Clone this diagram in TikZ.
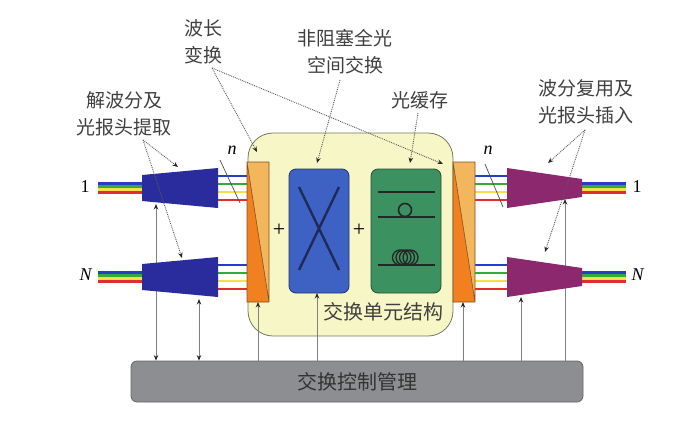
\documentclass[tikz,border=0pt]{standalone}
\usepackage{fontspec}
\setmainfont{Liberation Serif}
\newfontfamily\cjk{Noto Sans CJK SC}
\usetikzlibrary{positioning,arrows.meta}
\definecolor{unitfill}{RGB}{246,246,198}
\definecolor{unitline}{RGB}{120,120,95}
\definecolor{orlight}{RGB}{242,182,92}
\definecolor{ordark}{RGB}{240,128,32}
\definecolor{orline}{RGB}{130,80,35}
\definecolor{swblue}{RGB}{62,98,196}
\definecolor{swline}{RGB}{38,52,110}
\definecolor{bufgreen}{RGB}{60,145,96}
\definecolor{bufline}{RGB}{38,78,52}
\definecolor{demuxblue}{RGB}{42,44,158}
\definecolor{muxpurple}{RGB}{140,40,110}
\definecolor{ctrlgray}{RGB}{140,142,146}
\definecolor{fblue}{RGB}{40,60,200}
\definecolor{fgreen}{RGB}{50,170,60}
\definecolor{fyellow}{RGB}{240,225,70}
\definecolor{fred}{RGB}{225,45,45}
\tikzset{
  cnlabel/.style={font=\cjk\fontsize{19}{27}\selectfont, align=center, text=black!75, inner sep=0pt},
  pointer/.style={->, densely dotted, line width=0.9pt, draw=black!65},
  ctrlline/.style={line width=0.9pt, draw=black!50},
  latlabel/.style={font=\fontsize{18}{20}\selectfont, inner sep=0pt},
}

\begin{document}
\begin{tikzpicture}[x=1pt,y=-1pt,>={Stealth[length=5.5pt,width=4.5pt,color=black!85]}]
\useasboundingbox (0,0) rectangle (700,423);
% switching unit
\node[draw=unitline, fill=unitfill, line width=0.8pt, rounded corners=25pt, minimum width=205pt, minimum height=203pt, inner sep=0pt] (unit) at (350.5,234.5) {};
% fibres
\foreach \yy in {188,277} {
  \foreach \c/\o in {fblue/-4.5,fgreen/-1.5,fyellow/1.5,fred/4.5} {
    \draw[\c, line width=3pt] (98,{\yy+\o}) -- (142,{\yy+\o});
    \draw[\c, line width=3pt] (582,{\yy+\o}) -- (626,{\yy+\o});
  }
  \foreach \c/\o in {fblue/-12,fgreen/-4,fyellow/4,fred/12} {
    \draw[\c, line width=2.2pt] (218,{\yy+\o}) -- (247,{\yy+\o});
    \draw[\c, line width=2.2pt] (475,{\yy+\o}) -- (507,{\yy+\o});
  }
}
% control box
\node[draw=black!60, fill=ctrlgray, rounded corners=6pt, minimum width=452pt, minimum height=41pt, line width=0.8pt, font=\cjk\fontsize{20}{24}\selectfont, text=black!80] (ctrl) at (357,381.5) {交换控制管理};
% control lines
\coordinate (d1b) at (156,204);
\coordinate (dNb) at (199,299);
\coordinate (wcLb) at (258,302);
\coordinate (swb) at (317,293);
\coordinate (wcRb) at (463,302);
\coordinate (mNb) at (521,297);
\coordinate (m1b) at (565,199);
\draw[ctrlline,<->] (d1b) -- (d1b |- ctrl.north);
\draw[ctrlline,<->] (dNb) -- (dNb |- ctrl.north);
\foreach \p in {wcLb,swb,wcRb,mNb,m1b}
  \draw[ctrlline,->] (\p |- ctrl.north) -- (\p);
% demux and mux
\foreach \yy in {188,277} {
  \fill[demuxblue] (142,{\yy-13}) -- (218,{\yy-20}) -- (218,{\yy+20}) -- (142,{\yy+13}) -- cycle;
  \fill[muxpurple] (507,{\yy-20}) -- (582,{\yy-9}) -- (582,{\yy+9}) -- (507,{\yy+20}) -- cycle;
}
% wavelength converters
\foreach \bx in {247,453} {
  \fill[orlight] (\bx,162) -- ({\bx+22},162) -- ({\bx+22},302) -- cycle;
  \fill[ordark] (\bx,162) -- ({\bx+22},302) -- (\bx,302) -- cycle;
  \draw[orline, line width=0.6pt] (\bx,162) rectangle ({\bx+22},302) (\bx,162) -- ({\bx+22},302);
}
% space switch
\node[draw=swline, fill=swblue, rounded corners=7pt, minimum width=60pt, minimum height=124pt, line width=0.8pt] (switch) at (319,231) {};
\draw[swline!80!black, line width=2.4pt] (299,187) -- (339,270) (339,187) -- (299,270);
% buffer
\node[draw=bufline, fill=bufgreen, rounded corners=7pt, minimum width=70pt, minimum height=124pt, line width=0.8pt] (buffer) at (406,231) {};
\draw[black!85, line width=2pt] (378,192) -- (435,192) (378,217) -- (435,217) (378,265) -- (435,265);
\draw[black!85, line width=1.6pt] (405,210) circle (6.5);
\foreach \cx in {400,403.5,407,410.5}
  \draw[black!85, line width=1.3pt] (\cx,257.5) circle (7.5);
\node[latlabel, font=\fontsize{22}{24}\selectfont] (plusA) at (279,230) {+};
\node[latlabel, font=\fontsize{22}{24}\selectfont] (plusB) at (359,230) {+};
% port labels
\node[latlabel] (in1) at (85,187) {1};
\node[latlabel] (inN) at (86,275) {\textit{N}};
\node[latlabel] (out1) at (637,187) {1};
\node[latlabel] (outN) at (638,275) {\textit{N}};
\node[latlabel] (nL) at (232,150) {\textit{n}};
\node[latlabel] (nR) at (488,150) {\textit{n}};
\draw[black!70, line width=0.7pt] (220,160) -- (240,203);
\draw[black!70, line width=0.7pt] (485,164) -- (503,207);
% texts
\node[cnlabel, font=\cjk\fontsize{20}{24}\selectfont] (unittext) at (383,312) {交换单元结构};
\node[cnlabel] (wl) at (203,41.5) {波长\\变换};
\node[cnlabel] (nb) at (345,51.5) {非阻塞全光\\空间交换};
\node[cnlabel] (buf) at (420,100) {光缓存};
\node[cnlabel] (dm) at (124,113.5) {解波分及\\光报头提取};
\node[cnlabel] (mx) at (586,101.5) {波分复用及\\光报头插入};
% pointers
\coordinate (wlfoot) at (212,68);
\coordinate (nbfoot) at (340,80);
\coordinate (buffoot) at (418,113);
\coordinate (dmfoot) at (143,140);
\coordinate (mxfoot) at (585,130);
\coordinate (wcLt) at (257,152);
\coordinate (wcRt) at (443,164);
\coordinate (swt) at (317,163);
\coordinate (buft) at (410,163);
\coordinate (d1t) at (178,167);
\coordinate (dNt) at (182,258);
\coordinate (m1t) at (548,163);
\coordinate (mNt) at (545,252);
\draw[pointer] (wlfoot) -- (wcLt);
\draw[pointer] (wlfoot) -- (wcRt);
\draw[pointer] (nbfoot) -- (swt);
\draw[pointer] (buffoot) -- (buft);
\draw[pointer] (dmfoot) -- (d1t);
\draw[pointer] (dmfoot) -- (dNt);
\draw[pointer] (mxfoot) -- (m1t);
\draw[pointer] (mxfoot) -- (mNt);
\end{tikzpicture}
\end{document}
